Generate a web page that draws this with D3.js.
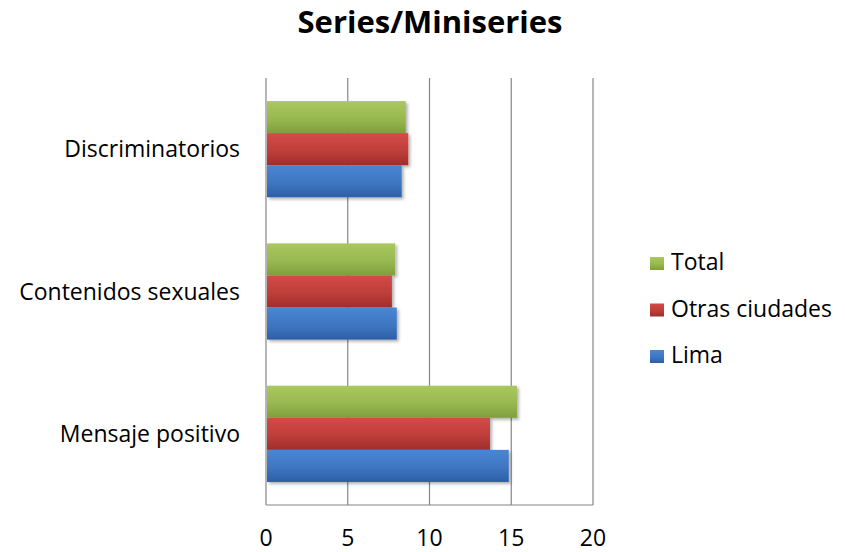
<!DOCTYPE html>
<html><head><meta charset="utf-8">
<script src="https://cdn.jsdelivr.net/npm/d3@7"></script>
<style>body{margin:0;background:#fff}svg{display:block}</style>
</head><body>
<script>
const categories = ["Discriminatorios", "Contenidos sexuales", "Mensaje positivo"];
const seriesNames = ["Total", "Otras ciudades", "Lima"];
const total = [8.55, 7.9, 15.35];
const otras = [8.7, 7.7, 13.7];
const lima = [8.3, 8.0, 14.85];
const ticks = [0, 5, 10, 15, 20];
const colors = {"Total": ["#a9c95f", "#7e9f3a"], "Otras ciudades": ["#d44a47", "#a02d2a"], "Lima": ["#4a86d4", "#2c5fa6"]};
const seriesVals = {"Total": total, "Otras ciudades": otras, "Lima": lima};

const W = 845, H = 552;
const svg = d3.select("body").append("svg").attr("width", W).attr("height", H);
const font = "'Open Sans', Lato, sans-serif";

const defs = svg.append("defs");
seriesNames.forEach((s, i) => {
  const g = defs.append("linearGradient").attr("id", "g" + i).attr("x1", 0).attr("x2", 0).attr("y1", 0).attr("y2", 1);
  g.append("stop").attr("offset", "0%").attr("stop-color", colors[s][0]);
  g.append("stop").attr("offset", "55%").attr("stop-color", d3.interpolateRgb(colors[s][0], colors[s][1])(0.4));
  g.append("stop").attr("offset", "100%").attr("stop-color", colors[s][1]);
});
const f = defs.append("filter").attr("id", "sh").attr("x", "-5%").attr("y", "-20%").attr("width", "115%").attr("height", "150%");
f.append("feDropShadow").attr("dx", 2).attr("dy", 2).attr("stdDeviation", 1.5).attr("flood-color", "#000").attr("flood-opacity", 0.3);

const x0 = 266, x1 = 593, yTop = 78, yBot = 505;
const x = d3.scaleLinear().domain([0, 20]).range([x0, x1]);
const y = d3.scaleBand().domain(categories).range([yTop, yBot]).paddingInner(0.324).paddingOuter(0.162);
const ys = d3.scaleBand().domain(seriesNames).range([0, y.bandwidth()]);

// gridlines
svg.append("g").selectAll("line").data(ticks).join("line")
  .attr("x1", d => x(d)).attr("x2", d => x(d)).attr("y1", yTop).attr("y2", yBot)
  .attr("stroke", "#868686").attr("stroke-width", 1.2);
svg.append("line").attr("x1", x0).attr("x2", x1).attr("y1", yBot).attr("y2", yBot)
  .attr("stroke", "#868686").attr("stroke-width", 1.2);

// bars
seriesNames.forEach((s, i) => {
  svg.append("g").selectAll("rect").data(categories).join("rect")
    .attr("x", x(0) + 1)
    .attr("y", (c) => y(c) + ys(s))
    .attr("width", (c, j) => x(seriesVals[s][j]) - x(0) - 1)
    .attr("height", ys.bandwidth())
    .attr("fill", "url(#g" + i + ")")
    .attr("filter", "url(#sh)");
});

// x tick labels
svg.append("g").selectAll("text").data(ticks).join("text")
  .attr("x", d => x(d)).attr("y", 546).attr("text-anchor", "middle")
  .attr("font-family", font).attr("font-size", 23).attr("fill", "#000").text(d => d);

// category labels
svg.append("g").selectAll("text").data(categories).join("text")
  .attr("x", 240).attr("y", c => y(c) + y.bandwidth() / 2 + 8).attr("text-anchor", "end")
  .attr("font-family", font).attr("font-size", 23).attr("fill", "#000").text(c => c);

// title
svg.append("text").attr("x", 430).attr("y", 33).attr("text-anchor", "middle")
  .attr("font-family", font).attr("font-weight", "bold").attr("font-size", 31).attr("fill", "#000").text("Series/Miniseries");

// legend
const leg = svg.append("g").selectAll("g").data(seriesNames).join("g")
  .attr("transform", (s, i) => `translate(650, ${263 + i * 46.5})`);
leg.append("rect").attr("x", 0).attr("y", -6).attr("width", 14).attr("height", 13)
  .attr("fill", (s, i) => `url(#g${i})`);
leg.append("text").attr("x", 21).attr("y", 7).attr("font-family", font).attr("font-size", 23).attr("fill", "#000").text(s => s);
</script>
</body></html>
